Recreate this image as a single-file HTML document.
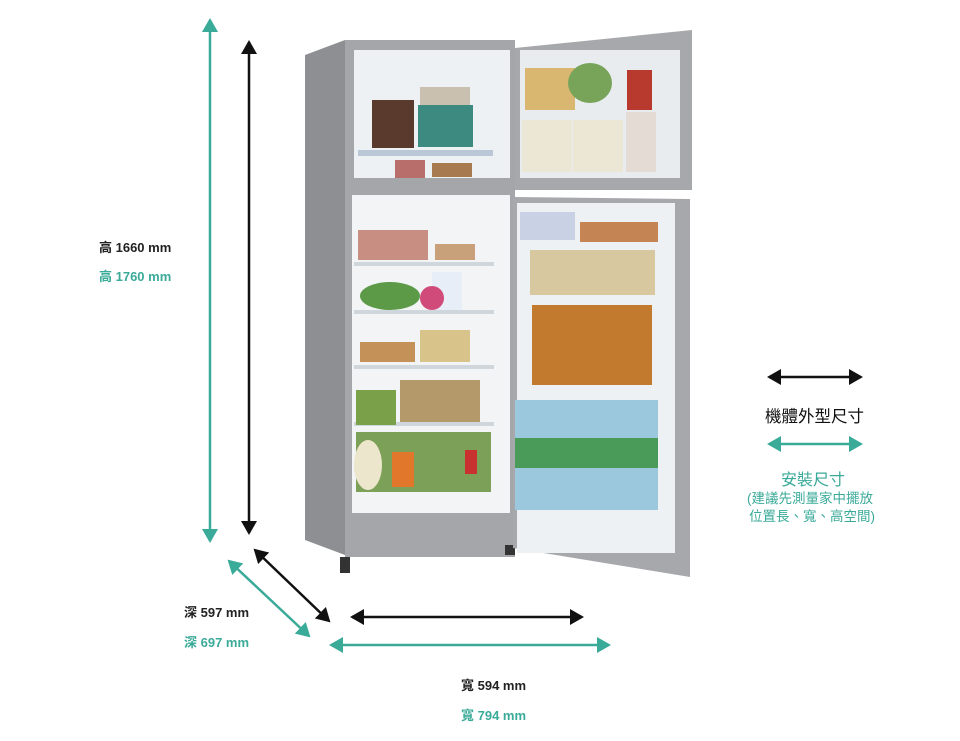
<!DOCTYPE html>
<html><head><meta charset="utf-8"><style>
body{margin:0;background:#fff;width:960px;height:741px;overflow:hidden;position:relative;font-family:"Liberation Sans","Noto Sans CJK TC",sans-serif}
.t{position:absolute;font-size:13px;font-weight:bold;white-space:nowrap}
.k{color:#222}.g{color:#3aaa99}
</style></head><body>
<svg width="960" height="741" style="position:absolute;left:0;top:0">
<defs>
<marker id="ab" markerWidth="14" markerHeight="16" refX="12" refY="8" orient="auto-start-reverse" markerUnits="userSpaceOnUse"><path d="M0,0 L14,8 L0,16z" fill="#111"/></marker>
<marker id="ag" markerWidth="14" markerHeight="16" refX="12" refY="8" orient="auto-start-reverse" markerUnits="userSpaceOnUse"><path d="M0,0 L14,8 L0,16z" fill="#3aaa99"/></marker>
</defs>
<g stroke-width="2.5">
<line x1="210" y1="20" x2="210" y2="541" stroke="#3aaa99" marker-start="url(#ag)" marker-end="url(#ag)"/>
<line x1="249" y1="42" x2="249" y2="533" stroke="#111" marker-start="url(#ab)" marker-end="url(#ab)"/>
<line x1="255" y1="550" x2="329" y2="621" stroke="#111" marker-start="url(#ab)" marker-end="url(#ab)"/>
<line x1="229" y1="561" x2="309" y2="636" stroke="#3aaa99" marker-start="url(#ag)" marker-end="url(#ag)"/>
<line x1="352" y1="617" x2="582" y2="617" stroke="#111" marker-start="url(#ab)" marker-end="url(#ab)"/>
<line x1="331" y1="645" x2="609" y2="645" stroke="#3aaa99" marker-start="url(#ag)" marker-end="url(#ag)"/>
<line x1="769" y1="377" x2="861" y2="377" stroke="#111" marker-start="url(#ab)" marker-end="url(#ab)"/>
<line x1="769" y1="444" x2="861" y2="444" stroke="#3aaa99" marker-start="url(#ag)" marker-end="url(#ag)"/>
</g>
<!-- cabinet -->
<polygon points="305,55 345,40 345,555 305,540" fill="#8d8f93"/>
<rect x="345" y="40" width="170" height="517" fill="#a4a6aa"/>
<rect x="354" y="50" width="156" height="128" fill="#eef1f4"/>
<rect x="352" y="195" width="158" height="318" fill="#f2f4f6"/>
<rect x="340" y="557" width="10" height="16" fill="#333"/>
<rect x="505" y="545" width="10" height="10" fill="#333"/>
<rect x="372" y="100" width="42" height="48" fill="#5a3a2c"/>
<rect x="418" y="105" width="55" height="42" fill="#3c8a80"/>
<rect x="420" y="87" width="50" height="18" fill="#c9c0b0"/>
<rect x="358" y="150" width="135" height="6" fill="#b9c7d6"/>
<rect x="395" y="160" width="30" height="18" fill="#b86e6a"/>
<rect x="432" y="163" width="40" height="14" fill="#a87a50"/>
<g fill="#cfd7dd"><rect x="354" y="262" width="140" height="4"/><rect x="354" y="310" width="140" height="4"/><rect x="354" y="365" width="140" height="4"/><rect x="354" y="422" width="140" height="4"/></g>
<rect x="358" y="230" width="70" height="30" fill="#c98e82"/>
<rect x="435" y="244" width="40" height="16" fill="#c8a07a"/>
<ellipse cx="390" cy="296" rx="30" ry="14" fill="#5c9a48"/>
<rect x="432" y="272" width="30" height="38" fill="#e8eef8"/>
<ellipse cx="432" cy="298" rx="12" ry="12" fill="#d04a7a"/>
<rect x="360" y="342" width="55" height="20" fill="#c49258"/>
<rect x="420" y="330" width="50" height="32" fill="#d8c48a"/>
<rect x="356" y="390" width="40" height="35" fill="#7aa04a"/>
<rect x="400" y="380" width="80" height="42" fill="#b49a6a"/>
<rect x="356" y="432" width="135" height="60" fill="#7da058"/>
<ellipse cx="368" cy="465" rx="14" ry="25" fill="#ece6cc"/>
<rect x="392" y="452" width="22" height="35" fill="#e0772a"/>
<rect x="465" y="450" width="12" height="24" fill="#c93030"/>
<polygon points="515,48 692,30 692,190 515,190" fill="#a6a8ac"/>
<rect x="520" y="50" width="160" height="128" fill="#e8ecef"/>
<rect x="525" y="68" width="50" height="42" fill="#d9b770"/>
<ellipse cx="590" cy="83" rx="22" ry="20" fill="#78a45a"/>
<rect x="627" y="70" width="25" height="40" fill="#b83a2e"/>
<rect x="522" y="120" width="50" height="52" fill="#ece6d4"/>
<rect x="573" y="120" width="50" height="52" fill="#ece6d4"/>
<rect x="626" y="112" width="30" height="60" fill="#e4dcd4"/>
<polygon points="513,197 690,199 690,577 513,548" fill="#a6a8ac"/>
<rect x="517" y="203" width="158" height="350" fill="#eef1f4"/>
<rect x="520" y="212" width="55" height="28" fill="#c9d2e4"/>
<rect x="580" y="222" width="78" height="20" fill="#c48454"/>
<rect x="530" y="250" width="125" height="45" fill="#d8c8a0"/>
<rect x="532" y="305" width="120" height="80" fill="#c27a2e"/>
<rect x="515" y="400" width="143" height="110" fill="#9cc8de"/>
<rect x="515" y="438" width="143" height="30" fill="#4a9a5a"/>
</svg>
<div class="t k" style="left:99px;top:237px">高 1660 mm</div>
<div class="t g" style="left:99px;top:266px">高 1760 mm</div>
<div class="t k" style="left:184px;top:602px">深 597 mm</div>
<div class="t g" style="left:184px;top:632px">深 697 mm</div>
<div class="t k" style="left:461px;top:675px">寬 594 mm</div>
<div class="t g" style="left:461px;top:705px">寬 794 mm</div>
<div class="t k" style="left:765px;top:403px;font-size:16.5px;font-weight:normal;color:#111">機體外型尺寸</div>
<div class="t g" style="left:781px;top:466px;font-size:16px;font-weight:normal">安裝尺寸</div>
<div class="t g" style="left:747px;top:487px;font-size:13.5px;font-weight:normal">(建議先測量家中擺放</div>
<div class="t g" style="left:749px;top:505px;font-size:13.5px;font-weight:normal">位置長、寬、高空間)</div>
</body></html>
